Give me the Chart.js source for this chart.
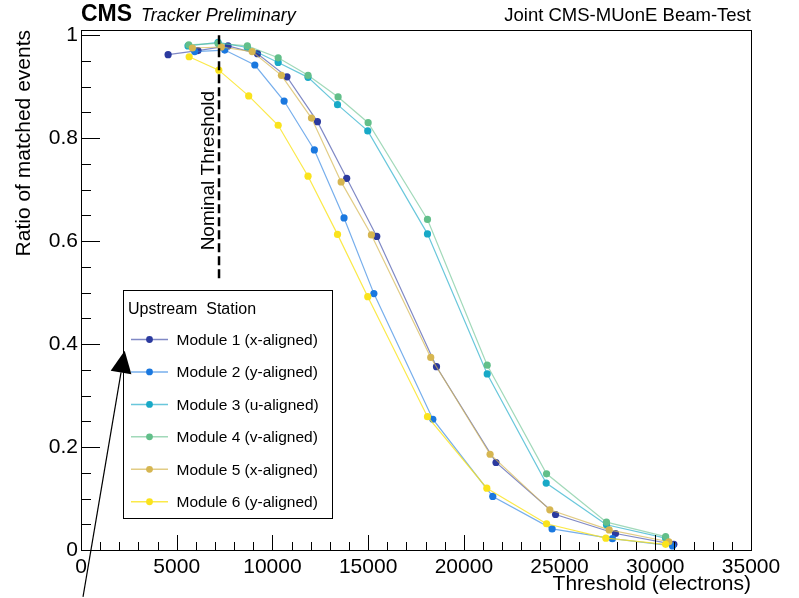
<!DOCTYPE html>
<html>
<head>
<meta charset="utf-8">
<script src="https://cdn.jsdelivr.net/npm/chart.js@4/dist/chart.umd.min.js"></script>
<style>
  html, body { margin: 0; padding: 0; background: #fff; }
  #div-for-canvas { width: 799px; height: 598px; }
</style>
</head>
<body>
<div id="div-for-canvas"><canvas id="myChart" width="799" height="598"></canvas></div>
<script>
// tick values (axis labels)
const xTicks = [0, 5000, 10000, 15000, 20000, 25000, 30000, 35000] ;
const yTicks = [0, 0.2, 0.4, 0.6, 0.8, 1] ;

const moduleLabels = [
  "Module 1 (x-aligned)",
  "Module 2 (y-aligned)",
  "Module 3 (u-aligned)",
  "Module 4 (v-aligned)",
  "Module 5 (x-aligned)",
  "Module 6 (y-aligned)"
] ;
const moduleColors = ["#2b3a9f", "#1a78df", "#18a9c7", "#62bf8a", "#d6b651", "#fae31c"] ;
const lineColors = ["rgba(43,58,159,0.6)", "rgba(26,120,223,0.6)", "rgba(24,169,199,0.65)",
                    "rgba(98,191,138,0.6)", "rgba(214,182,81,0.7)", "rgba(250,227,28,0.8)"] ;

// threshold (electrons) and ratio of matched events, per module
const mod1X = [4550, 6110, 7680, 9220, 10760, 12350, 13880, 15450, 18570, 21680, 24790, 27920, 30970] ;
const mod1Y = [0.962, 0.970, 0.979, 0.964, 0.919, 0.832, 0.722, 0.609, 0.356, 0.170, 0.069, 0.032, 0.011] ;

const mod2X = [5940, 7510, 9080, 10610, 12190, 13740, 15300, 18380, 21510, 24610, 27760, 30900] ;
const mod2Y = [0.968, 0.971, 0.942, 0.872, 0.777, 0.645, 0.498, 0.254, 0.104, 0.041, 0.022, 0.008] ;

const mod3X = [5590, 7160, 8690, 10300, 11860, 13400, 14980, 18100, 21220, 24300, 27450, 30540] ;
const mod3Y = [0.979, 0.986, 0.976, 0.947, 0.918, 0.865, 0.814, 0.614, 0.342, 0.130, 0.049, 0.023] ;

const mod4X = [5630, 7160, 8690, 10300, 11860, 13430, 15000, 18100, 21220, 24320, 27450, 30540] ;
const mod4Y = [0.981, 0.984, 0.979, 0.956, 0.922, 0.880, 0.830, 0.642, 0.359, 0.148, 0.054, 0.026] ;

const mod5X = [5820, 7330, 8940, 10470, 12040, 13590, 15170, 18270, 21370, 24490, 27590, 30710] ;
const mod5Y = [0.975, 0.977, 0.968, 0.922, 0.839, 0.715, 0.612, 0.374, 0.186, 0.078, 0.039, 0.016] ;

const mod6X = [5650, 7200, 8760, 10300, 11860, 13400, 14980, 18100, 21200, 24320, 27420, 30540] ;
const mod6Y = [0.958, 0.932, 0.882, 0.825, 0.726, 0.613, 0.492, 0.259, 0.120, 0.051, 0.023, 0.011] ;

const allX = [mod1X, mod2X, mod3X, mod4X, mod5X, mod6X] ;
const allY = [mod1Y, mod2Y, mod3Y, mod4Y, mod5Y, mod6Y] ;

// nominal threshold marker (data coords)
const nominalX = 7210 ;
const nominalYRange = [0.522, 1.0] ;

// arrow (data coords), tail below the axis, tip at the legend
const arrowTail = {x: 105, y: -0.091} ;
const arrowTip = {x: 2283, y: 0.387} ;

const FONT = "'Liberation Sans', Arial, Helvetica, sans-serif" ;

const datasets = moduleLabels.map((label, i) => ({
  label: label,
  data: allX[i].map((x, j) => ({x: x, y: allY[i][j]})),
  showLine: true,
  borderColor: lineColors[i],
  borderWidth: 1.2,
  pointRadius: 3.6,
  pointBorderWidth: 0,
  pointBackgroundColor: moduleColors[i],
  order: 6 - i   // later modules drawn on top, like ROOT
})) ;

const rootStyle = {
  id: "rootStyle",
  afterDatasetsDraw(chart) {
    const ctx = chart.ctx ;
    const area = chart.chartArea ;
    const xs = chart.scales.x ;
    const ys = chart.scales.y ;
    ctx.save() ;

    // frame
    ctx.strokeStyle = "#000" ;
    ctx.lineWidth = 1 ;
    ctx.strokeRect(Math.round(area.left) + 0.5, Math.round(area.top) + 0.5,
                   Math.round(area.right - area.left), Math.round(area.bottom - area.top)) ;

    // inward ticks, x axis (minor every 1000)
    ctx.beginPath() ;
    for (let i = 0; i < xTicks.length; i++) {
      const step = i < xTicks.length - 1 ? (xTicks[i + 1] - xTicks[i]) / 5 : 0 ;
      for (let k = 0; k < (step ? 5 : 1); k++) {
        const v = xTicks[i] + k * step ;
        const px = Math.round(xs.getPixelForValue(v)) + 0.5 ;
        const len = k === 0 ? 15 : 8 ;
        ctx.moveTo(px, area.bottom) ;
        ctx.lineTo(px, area.bottom - len) ;
      }
    }
    // y axis (minor every 0.05)
    for (let i = 0; i < yTicks.length; i++) {
      const step = i < yTicks.length - 1 ? (yTicks[i + 1] - yTicks[i]) / 4 : 0 ;
      for (let k = 0; k < (step ? 4 : 1); k++) {
        const v = yTicks[i] + k * step ;
        const py = Math.round(ys.getPixelForValue(v)) + 0.5 ;
        const len = k === 0 ? 19 : 10 ;
        ctx.moveTo(area.left, py) ;
        ctx.lineTo(area.left + len, py) ;
      }
    }
    ctx.stroke() ;

    // nominal threshold dashed line
    const nx = xs.getPixelForValue(nominalX) ;
    ctx.beginPath() ;
    ctx.setLineDash([9, 4]) ;
    ctx.lineWidth = 2.5 ;
    ctx.moveTo(nx, ys.getPixelForValue(nominalYRange[1])) ;
    ctx.lineTo(nx, ys.getPixelForValue(nominalYRange[0])) ;
    ctx.stroke() ;
    ctx.setLineDash([]) ;

    ctx.save() ;
    ctx.translate(nx - 5.5, ys.getPixelForValue(0.582)) ;
    ctx.rotate(-Math.PI / 2) ;
    ctx.fillStyle = "#000" ;
    ctx.font = "19px " + FONT ;
    ctx.textAlign = "left" ;
    ctx.textBaseline = "alphabetic" ;
    ctx.fillText("Nominal Threshold", 0, 0) ;
    ctx.restore() ;

    ctx.restore() ;
  },
  afterDraw(chart) {
    const ctx = chart.ctx ;
    const area = chart.chartArea ;
    const xs = chart.scales.x ;
    const ys = chart.scales.y ;
    ctx.save() ;

    // header texts
    ctx.fillStyle = "#000" ;
    ctx.textBaseline = "alphabetic" ;
    ctx.textAlign = "left" ;
    ctx.font = "bold 23px " + FONT ;
    ctx.fillText("CMS", area.left, 21) ;
    ctx.font = "italic 18px " + FONT ;
    ctx.fillText("Tracker Preliminary", 141, 21) ;
    ctx.textAlign = "right" ;
    ctx.font = "18.5px " + FONT ;
    ctx.fillText("Joint CMS-MUonE Beam-Test", area.right, 21) ;

    // legend box
    const lx = 123.5, ly = 290.5, lw = 209, lh = 228 ;
    ctx.fillStyle = "#fff" ;
    ctx.fillRect(lx, ly, lw, lh) ;
    ctx.strokeStyle = "#000" ;
    ctx.lineWidth = 1 ;
    ctx.strokeRect(lx, ly, lw, lh) ;
    ctx.fillStyle = "#000" ;
    ctx.textAlign = "left" ;
    ctx.font = "16px " + FONT ;
    ctx.fillText("Upstream  Station", 128, 314) ;
    ctx.font = "15.5px " + FONT ;
    ctx.textBaseline = "middle" ;
    chart.data.datasets.forEach((ds, i) => {
      const ry = 339.5 + i * 32.45 ;
      ctx.strokeStyle = ds.borderColor ;
      ctx.lineWidth = 1.5 ;
      ctx.beginPath() ;
      ctx.moveTo(131, ry) ;
      ctx.lineTo(168, ry) ;
      ctx.stroke() ;
      ctx.fillStyle = ds.pointBackgroundColor ;
      ctx.beginPath() ;
      ctx.arc(149.5, ry, 3.4, 0, Math.PI * 2) ;
      ctx.fill() ;
      ctx.fillStyle = "#000" ;
      ctx.fillText(ds.label, 176.5, ry + 1) ;
    }) ;

    // arrow
    const tx = xs.getPixelForValue(arrowTail.x), ty = ys.getPixelForValue(arrowTail.y) ;
    const hx = xs.getPixelForValue(arrowTip.x), hy = ys.getPixelForValue(arrowTip.y) ;
    const len = Math.hypot(hx - tx, hy - ty) ;
    const ux = (hx - tx) / len, uy = (hy - ty) / len ;
    const headLen = 22, headHalf = 10.5 ;
    const bx = hx - ux * headLen, by = hy - uy * headLen ;
    ctx.strokeStyle = "#000" ;
    ctx.lineWidth = 1.2 ;
    ctx.beginPath() ;
    ctx.moveTo(tx, ty) ;
    ctx.lineTo(bx, by) ;
    ctx.stroke() ;
    ctx.fillStyle = "#000" ;
    ctx.beginPath() ;
    ctx.moveTo(hx, hy) ;
    ctx.lineTo(bx - uy * headHalf, by + ux * headHalf) ;
    ctx.lineTo(bx + uy * headHalf, by - ux * headHalf) ;
    ctx.closePath() ;
    ctx.fill() ;

    ctx.restore() ;
  }
} ;

const ctx = document.getElementById("myChart") ;
new Chart(ctx, {
  type: "scatter",
  data: { datasets: datasets },
  options: {
    responsive: false,
    animation: false,
    devicePixelRatio: 1,
    layout: { padding: { left: 0, top: 30, right: 48, bottom: 0 } },
    plugins: {
      legend: { display: false },
      tooltip: { enabled: false }
    },
    scales: {
      x: {
        type: "linear",
        min: 0,
        max: 35000,
        afterFit: (scale) => { scale.height = 48 ; },
        afterBuildTicks: (scale) => { scale.ticks = xTicks.map(v => ({value: v})) ; },
        grid: { display: false, drawTicks: false },
        border: { display: false },
        ticks: {
          color: "#000",
          padding: 5,
          maxRotation: 0,
          font: { family: FONT, size: 21 },
          callback: (v) => String(v)
        },
        title: {
          display: true,
          text: "Threshold (electrons)",
          align: "end",
          color: "#000",
          font: { family: FONT, size: 21 },
          padding: { top: 0, bottom: 1 }
        }
      },
      y: {
        type: "linear",
        min: 0,
        max: 1.01,
        afterFit: (scale) => { scale.width = 81 ; },
        afterBuildTicks: (scale) => { scale.ticks = yTicks.map(v => ({value: v})) ; },
        grid: { display: false, drawTicks: false },
        border: { display: false },
        ticks: {
          color: "#000",
          padding: 3,
          font: { family: FONT, size: 21 },
          callback: (v) => String(Math.round(v * 10) / 10)
        },
        title: {
          display: true,
          text: "Ratio of matched events",
          align: "end",
          color: "#000",
          font: { family: FONT, size: 21 },
          padding: { top: 12, bottom: 0 }
        }
      }
    }
  },
  plugins: [rootStyle]
}) ;
</script>
</body>
</html>
